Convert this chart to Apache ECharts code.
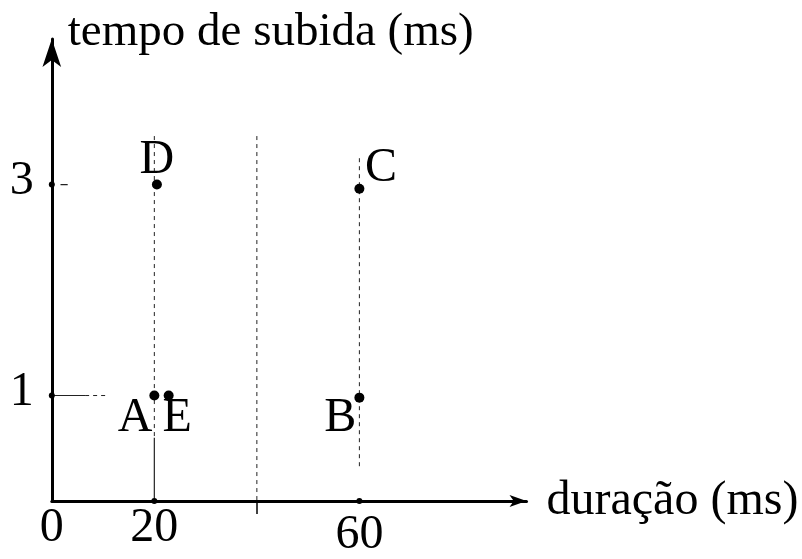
<!DOCTYPE html>
<html>
<head>
<meta charset="utf-8">
<script src="https://cdn.jsdelivr.net/npm/echarts@6/dist/echarts.min.js"></script>
<style>
  html, body { margin: 0; padding: 0; background: #fff; }
  #chart { width: 802px; height: 559px; }
</style>
</head>
<body>
<div id="chart"></div>
<script>
// Stimuli plotted as duration (ms) against rise time (ms)
const pointNames = ['A', 'E', 'B', 'C', 'D'];
const durations  = [20, 22.8, 60, 60, 20.5];
const riseTimes  = [1, 1, 0.98, 2.96, 3];

// Axis ticks
const xLabelValues = [0, 20, 60];
const xMarkValues  = [40];
const yLabelValues = [1, 3];
const xDotValues   = [20, 60];
const yDotValues   = [1, 3];

// Guide segments as [x1, y1, x2, y2] in data units
const dashedGuides = [
  [20, 3.46, 20, 0.6],
  [40, 3.46, 40, 0],
  [60, 3.25, 60, 0.3],
  [6.5, 1, 11, 1]
];
const solidGuides = [
  [20, 0.6, 20, 0],
  [0, 1, 6.5, 1],
  [1.7, 3, 3.1, 3]
];

const FONT = '"Liberation Serif", "Times New Roman", serif';
const INK = '#000';
const TEXT = { fontFamily: FONT, color: INK };

// Label placement around each point marker (relative to the marker box)
const labelPlacement = {
  A: { position: [3, 3.6],      align: 'right',  verticalAlign: 'top' },
  E: { position: [-1.2, 3.6],   align: 'left',   verticalAlign: 'top' },
  B: { position: [2, 2],        align: 'right',  verticalAlign: 'top' },
  C: { position: [10.5, -39.2], align: 'left',   verticalAlign: 'top' },
  D: { position: [5, -43.2],    align: 'center', verticalAlign: 'top' }
};

const chart = echarts.init(document.getElementById('chart'), null, { renderer: 'canvas' });

function segmentSeries(seg, dashed) {
  return {
    type: 'line',
    data: [[seg[0], seg[1]], [seg[2], seg[3]]],
    symbol: 'none',
    silent: true,
    z: 1,
    lineStyle: {
      color: '#222',
      width: dashed ? 1 : 1.2,
      type: dashed ? [4, 4] : 'solid'
    }
  };
}

const pointData = pointNames.map((name, i) => ({
  name: name,
  value: [durations[i], riseTimes[i]],
  label: Object.assign({ show: true, formatter: name, fontSize: 48 }, TEXT, labelPlacement[name])
}));

const option = {
  animation: false,
  backgroundColor: '#fff',
  grid: { left: 51.8, right: 275.5, top: 39, bottom: 57.5 },
  xAxis: {
    type: 'value',
    min: 0,
    max: 92.6,
    name: 'duração (ms)',
    nameLocation: 'end',
    nameGap: 20,
    nameTextStyle: Object.assign({
      fontSize: 48, align: 'left', verticalAlign: 'middle', padding: [0, 0, 5, 0]
    }, TEXT),
    axisLine: {
      onZero: false,
      symbol: ['none', 'arrow'],
      symbolSize: [9, 17],
      lineStyle: { color: INK, width: 3 }
    },
    axisTick: {
      show: true,
      customValues: xMarkValues,
      length: 13,
      lineStyle: { color: INK, width: 1.5 }
    },
    axisLabel: Object.assign({
      customValues: xLabelValues,
      margin: 3,
      fontSize: 48,
      formatter: v => v === 60 ? '{low|' + v + '}' : String(v),
      rich: { low: Object.assign({ fontSize: 48, padding: [7, 0, 0, 0] }, TEXT) }
    }, TEXT),
    splitLine: { show: false }
  },
  yAxis: {
    type: 'value',
    min: 0,
    max: 4.38,
    name: 'tempo de subida (ms)',
    nameLocation: 'end',
    nameGap: 6,
    nameTextStyle: Object.assign({
      fontSize: 47, align: 'left', verticalAlign: 'middle', padding: [0, 0, 0, 16]
    }, TEXT),
    axisLine: {
      onZero: false,
      symbol: ['none', 'arrow'],
      symbolSize: [14, 28],
      lineStyle: { color: INK, width: 3 }
    },
    axisTick: { show: false },
    axisLabel: Object.assign({
      customValues: yLabelValues,
      margin: 18,
      fontSize: 48,
      formatter: v => '{up|' + v + '}',
      rich: { up: Object.assign({ fontSize: 48, padding: [0, 0, 6, 0] }, TEXT) }
    }, TEXT),
    splitLine: { show: false }
  },
  series: [
    ...dashedGuides.map(s => segmentSeries(s, true)),
    ...solidGuides.map(s => segmentSeries(s, false)),
    {
      // tick dots on both axes
      type: 'scatter',
      silent: true,
      z: 3,
      symbolSize: 6,
      itemStyle: { color: INK, opacity: 1 },
      data: xDotValues.map(v => [v, 0]).concat(yDotValues.map(v => [0, v]))
    },
    {
      type: 'scatter',
      z: 4,
      symbolSize: 10,
      itemStyle: { color: INK, opacity: 1 },
      data: pointData
    }
  ]
};

chart.setOption(option);
</script>
</body>
</html>
